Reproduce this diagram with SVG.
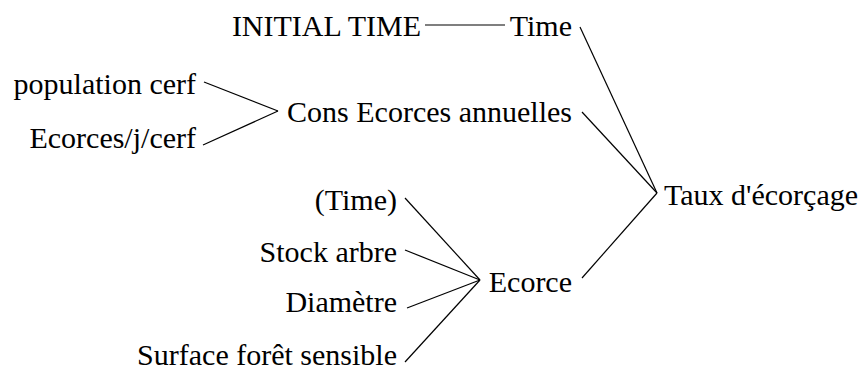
<svg xmlns="http://www.w3.org/2000/svg" width="860" height="378" viewBox="0 0 860 378">
<style>
text{font-family:"Liberation Serif","Times New Roman",serif;font-size:30px;fill:#000}
.e{text-anchor:end}
.l{stroke:#000;stroke-width:1.2;fill:none}
</style>
<rect width="860" height="378" fill="#fff"/>
<g id="connectors">
<line class="l" x1="425" y1="25" x2="505" y2="25"/>
<line class="l" x1="204" y1="82" x2="278" y2="111"/>
<line class="l" x1="203" y1="145" x2="278" y2="111"/>
<line class="l" x1="580" y1="27" x2="657" y2="193"/>
<line class="l" x1="582" y1="112" x2="657" y2="193"/>
<line class="l" x1="582" y1="278" x2="657" y2="193"/>
<line class="l" x1="405" y1="198" x2="480" y2="280"/>
<line class="l" x1="405" y1="250" x2="480" y2="280"/>
<line class="l" x1="407" y1="308" x2="480" y2="280"/>
<line class="l" x1="405" y1="362" x2="480" y2="280"/>
</g>
<g id="initial-time"><text class="e" x="421" y="36">INITIAL TIME</text></g>
<g id="time"><text class="e" x="572" y="36">Time</text></g>
<g id="population-cerf"><text class="e" x="196" y="94">population cerf</text></g>
<g id="ecorces-j-cerf"><text class="e" x="196" y="148">Ecorces/j/cerf</text></g>
<g id="cons-ecorces"><text class="e" x="572" y="122">Cons Ecorces annuelles</text></g>
<g id="taux"><text x="664" y="205">Taux d'écorçage</text></g>
<g id="time2"><text class="e" x="397" y="210">(Time)</text></g>
<g id="stock-arbre"><text class="e" x="397" y="262">Stock arbre</text></g>
<g id="diametre"><text class="e" x="397" y="312">Diamètre</text></g>
<g id="surface"><text class="e" x="397" y="365">Surface forêt sensible</text></g>
<g id="ecorce"><text class="e" x="572" y="292">Ecorce</text></g>
</svg>
